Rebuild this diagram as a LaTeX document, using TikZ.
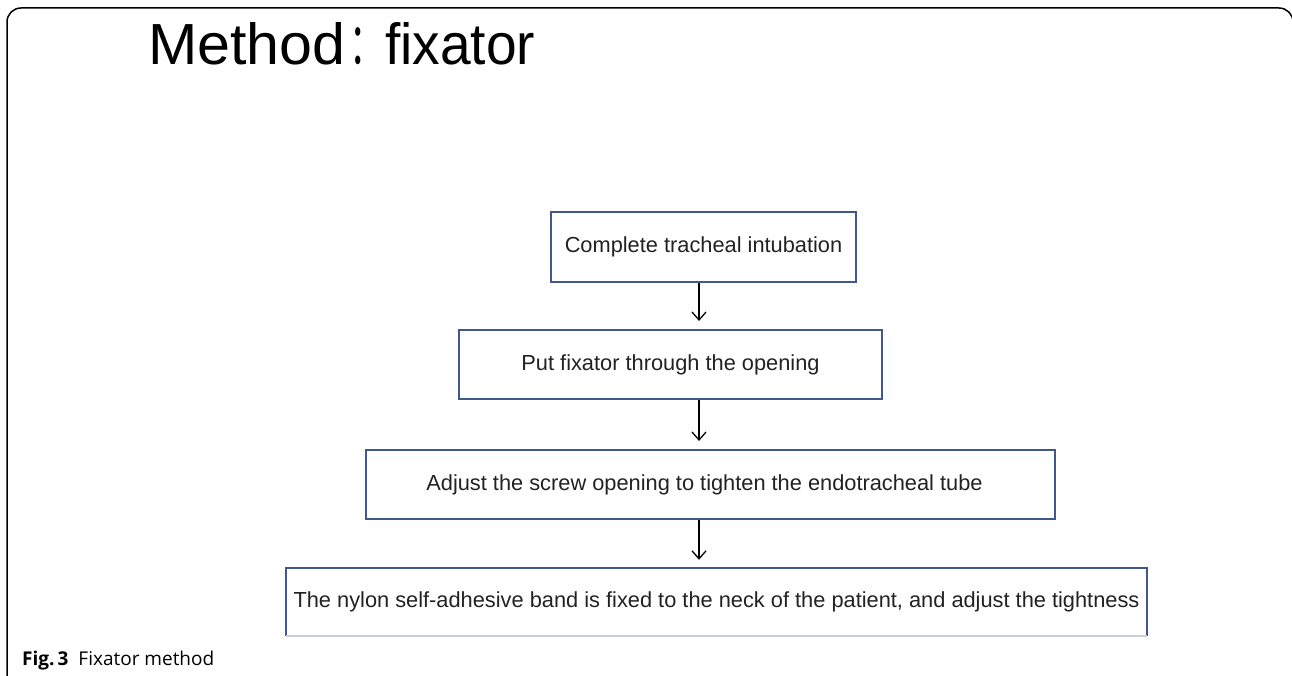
\documentclass[tikz,border=0pt]{standalone}
\usepackage{fontspec}
\setmainfont{Liberation Sans}
\newfontfamily\cjk{Noto Sans CJK SC}
\newfontfamily\capfont{Open Sans}
\usetikzlibrary{arrows.meta}
\definecolor{boxc}{HTML}{41588A}
\definecolor{fadec}{HTML}{C9D0DE}
\definecolor{txtc}{HTML}{222222}
\tikzset{
  stepbox/.style={draw=boxc, line width=2pt, minimum height=69pt, inner sep=0pt, text=txtc, font=\fontsize{21.8}{24}\selectfont},
  flow/.style={-{Straight Barb[length=8pt,width=14pt,line width=1.3pt]}, line width=1.3pt, shorten >=8pt},
  titletext/.style={anchor=base west, inner sep=0pt, font=\fontsize{58}{60}\selectfont},
}
\begin{document}
\begin{tikzpicture}[x=1pt,y=-1pt]
\useasboundingbox (0,0) rectangle (1292,676);
\draw[line width=1.5pt, rounded corners=14pt] (7,690) -- (7,8) -- (1293,8) -- (1293,690);
\node[titletext] (title) at (148,65) {\scalebox{1.02}[1]{Method}};
\node[titletext] (colon) at (349,65) {\scalebox{0.6}[1]{\cjk ：}};
\node[titletext] (title2) at (385,65) {\scalebox{0.95}[1]{fixator}};
\node[stepbox, minimum width=305pt] (b1) at (703.5,247) {Complete tracheal intubation};
\node[stepbox, minimum width=423pt] (b2) at (670.5,364.5) {Put fixator through the opening};
\node[stepbox, minimum width=689pt] (b3) at (710.5,484.5) {\hspace*{-12pt}Adjust the screw opening to tighten the endotracheal tube};
\node[minimum width=861pt, minimum height=68pt, inner sep=0pt, text=txtc, font=\fontsize{21.8}{24}\selectfont] (b4) at (716.5,602) {The nylon self-adhesive band is fixed to the neck of the patient, and adjust the tightness};
\draw[boxc, line width=2pt] (b4.south west) -- (b4.north west) -- (b4.north east) -- (b4.south east);
\draw[fadec, line width=2pt] (b4.south west) -- (b4.south east);
\draw[flow] (b1.south -| 699,0) -- (b2.north -| 699,0);
\draw[flow] (b2.south -| 699,0) -- (b3.north -| 699,0);
\draw[flow] (b3.south -| 699,0) -- (b4.north -| 699,0);
\node[anchor=base west, inner sep=0pt, font=\capfont\fontsize{19}{22}\selectfont] (cap) at (22,665) {\textbf{Fig.\,3}\ \ Fixator method};
\end{tikzpicture}
\end{document}
